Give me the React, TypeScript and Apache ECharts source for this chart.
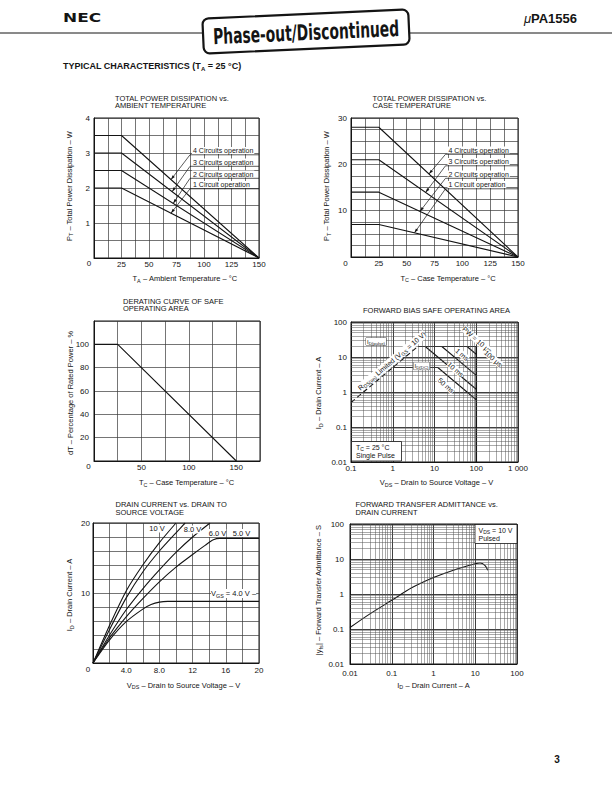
import React, { useEffect, useRef } from 'react';
import * as echarts from 'echarts';

// ---------- Chart 1: Total power dissipation vs ambient temperature ----------
const ambTemp = [0, 25, 150];
const pdAmb4 = [3.5, 3.5, 0];
const pdAmb3 = [3.0, 3.0, 0];
const pdAmb2 = [2.5, 2.5, 0];
const pdAmb1 = [2.0, 2.0, 0];

// ---------- Chart 2: Total power dissipation vs case temperature ----------
const caseTemp = [0, 25, 150];
const pdCase4 = [28, 28, 0];
const pdCase3 = [21, 21, 0];
const pdCase2 = [14, 14, 0];
const pdCase1 = [7, 7, 0];

// ---------- Chart 3: Derating curve ----------
const derateTemp = [0, 25, 150];
const deratePct = [100, 100, 0];

// ---------- Chart 4: Forward bias SOA ----------
const rdsV = [0.1, 4];
const rdsI = [0.5, 20];
const pw10usV = [4, 100];
const pw10usI = [20, 20];
const pw100usV = [60, 100];
const pw100usI = [20, 12];
const pw1msV = [15, 100];
const pw1msI = [20, 3];
const pw10msV = [6, 100];
const pw10msI = [20, 1.2];
const dcV = [1, 12, 100];
const dcI = [5, 5, 0.6];
const vdssV = [100, 100];
const vdssI = [20, 0.01];

// ---------- Chart 5: Drain current vs drain-source voltage ----------
const vds10 = [0, 2, 4, 6, 8, 10];
const id10 = [0, 5.4, 10.3, 14.0, 17.2, 20];
const vds8 = [0, 2, 4, 6, 8, 10, 11.1];
const id8 = [0, 4.8, 9.3, 13.0, 16.0, 18.6, 20];
const vds6 = [0, 2, 4, 6, 8, 10, 12, 14.1];
const id6 = [0, 4.0, 7.6, 10.6, 13.3, 15.8, 18.0, 20];
const vds5 = [0, 2, 4, 6, 8, 10, 12, 13.5, 14.5, 15.3, 20];
const id5 = [0, 3.6, 6.6, 9.2, 11.6, 13.7, 15.5, 16.8, 17.6, 17.8, 17.8];
const vds4 = [0, 2, 4, 6, 7, 8, 9, 20];
const id4 = [0, 3.3, 5.9, 7.7, 8.35, 8.7, 8.8, 8.8];

// ---------- Chart 6: Forward transfer admittance vs drain current ----------
const idFt = [0.01, 0.03, 0.1, 0.3, 1, 3, 10, 13, 17, 20];
const yfs = [0.11, 0.27, 0.66, 1.5, 2.96, 4.8, 7.3, 7.7, 6.6, 4.8];

// tick label sets
const c1XLabels = [25, 50, 75, 100, 125, 150];
const c1YLabels = [1, 2, 3, 4];
const c2YLabels = [10, 20, 30];
const c3XLabels = [50, 100, 150];
const c3YLabels = [20, 40, 60, 80, 100];
const c5XLabels = [4, 8, 12, 16, 20];
const c5YLabels = [10, 20];
const logMinorSteps = [2, 3, 4, 5, 6, 7, 8, 9];

const F = '"Liberation Sans", Arial, Helvetica, sans-serif';
const INK = '#141414';

const zip = (xs: number[], ys: number[]) => xs.map((x, i) => [x, ys[i]]);
const interp = (xs: number[], ys: number[], x: number) => {
  for (let i = 0; i < xs.length - 1; i++) {
    if (x >= xs[i] && x <= xs[i + 1]) {
      const t = (x - xs[i]) / (xs[i + 1] - xs[i]);
      return ys[i] + t * (ys[i + 1] - ys[i]);
    }
  }
  return ys[ys.length - 1];
};

function linAxis(gi: number, min: number, max: number, interval: number, labels: number[], margin: number, fmt?: (v: number) => string) {
  return {
    type: 'value', gridIndex: gi, min, max, interval,
    axisLine: { show: true, onZero: false, lineStyle: { color: INK, width: 1 } },
    axisTick: { show: false },
    splitLine: { show: true, lineStyle: { color: '#3a3a3a', width: 0.7 } },
    axisLabel: {
      fontSize: 8, color: INK, fontFamily: F, margin,
      formatter: (v: number) => (labels.some((l) => Math.abs(l - v) < 1e-6) ? (fmt ? fmt(v) : String(v)) : ''),
    },
  };
}
function logAxis(gi: number, min: number, max: number, margin: number) {
  return {
    type: 'log', logBase: 10, gridIndex: gi, min, max,
    axisLine: { show: true, onZero: false, lineStyle: { color: INK, width: 1 } },
    axisTick: { show: false },
    splitLine: { show: true, lineStyle: { color: '#2a2a2a', width: 0.9 } },
    axisLabel: {
      fontSize: 8, color: INK, fontFamily: F, margin,
      formatter: (v: number) => {
        const r = +Number(v).toPrecision(2);
        return r === 1000 ? '1 000' : String(r);
      },
    },
  };
}
function line(gi: number, data: number[][], extra: any = {}) {
  return {
    type: 'line', xAxisIndex: gi, yAxisIndex: gi, data, symbol: 'none', silent: true,
    lineStyle: { color: INK, width: 1.1 }, ...extra,
  };
}
function minorGrid(xDec: number[], yDec: number[]) {
  const xs: any[] = [];
  const ys: any[] = [];
  xDec.forEach((d) => logMinorSteps.forEach((m) => xs.push({ xAxis: +(d * m).toPrecision(3) })));
  yDec.forEach((d) => logMinorSteps.forEach((m) => ys.push({ yAxis: +(d * m).toPrecision(3) })));
  return {
    silent: true, symbol: ['none', 'none'], label: { show: false },
    lineStyle: { color: '#555', width: 0.5, type: 'solid' },
    emphasis: { disabled: true },
    data: [...xs, ...ys],
  };
}

const rich = (fs: number) => ({
  n: { fontSize: fs, fontFamily: F, fill: INK, lineHeight: fs * 1.2 },
  s: { fontSize: fs * 0.72, fontFamily: F, fill: INK, verticalAlign: 'bottom', lineHeight: fs * 0.95 },
});

function txt(x: number, y: number, text: string, o: any = {}) {
  const style: any = {
    text, fill: INK, fontSize: o.fs || 7.5, fontFamily: o.ff || F, fontWeight: o.fw || 'normal',
    align: o.align || 'left', verticalAlign: o.va || 'middle',
  };
  if (o.lh) style.lineHeight = o.lh;
  if (o.rich) style.rich = rich(o.fs || 7.5);
  if (o.bg) style.backgroundColor = o.bg;
  if (o.pad) style.padding = o.pad;
  if (o.bc) { style.borderColor = o.bc; style.borderWidth = o.bw || 0.8; }
  const el: any = { type: 'text', x, y, z: 20, style };
  if (o.rot) el.rotation = o.rot;
  if (o.scaleX) el.scaleX = o.scaleX;
  return el;
}
const hline = (x1: number, y1: number, x2: number, y2: number, w = 0.7) => ({
  type: 'line', z: 20, shape: { x1, y1, x2, y2 }, style: { stroke: INK, lineWidth: w },
});
function leader(s: number[], e: number[]) {
  const dx = e[0] - s[0];
  const dy = e[1] - s[1];
  const L = Math.hypot(dx, dy);
  const ux = dx / L;
  const uy = dy / L;
  const bx = e[0] - ux * 4.5;
  const by = e[1] - uy * 4.5;
  const px = -uy * 1.4;
  const py = ux * 1.4;
  return [
    hline(s[0], s[1], e[0], e[1], 0.7),
    { type: 'polygon', z: 20, shape: { points: [[e[0], e[1]], [bx + px, by + py], [bx - px, by - py]] }, style: { fill: INK } },
  ];
}

export default function App() {
  const ref = useRef<HTMLDivElement>(null);
  useEffect(() => {
    document.body.style.margin = '0';
    const chart = echarts.init(ref.current!, null, { renderer: 'svg', width: 612, height: 792 });
    const grids = [
      { left: 94, top: 118, width: 165, height: 140 },
      { left: 351, top: 118, width: 167, height: 139 },
      { left: 94, top: 321, width: 166, height: 140 },
      { left: 351, top: 322, width: 167, height: 140 },
      { left: 93, top: 523, width: 166, height: 140 },
      { left: 350, top: 524, width: 167, height: 140 },
    ].map((g) => ({ ...g, show: true, borderColor: INK, borderWidth: 1, backgroundColor: 'transparent' }));

    const xAxis = [
      linAxis(0, 0, 150, 12.5, c1XLabels, 2),
      linAxis(1, 0, 150, 12.5, c1XLabels, 2),
      linAxis(2, 0, 175, 25, c3XLabels, 2),
      logAxis(3, 0.1, 1000, 2),
      linAxis(4, 0, 20, 2, c5XLabels, 3, (v) => (v < 10 ? v.toFixed(1) : String(v))),
      logAxis(5, 0.01, 100, 5),
    ];
    const yAxis = [
      linAxis(0, 0, 4, 0.5, c1YLabels, 4),
      linAxis(1, 0, 30, 2.5, c2YLabels, 4),
      linAxis(2, 0, 120, 20, c3YLabels, 5),
      logAxis(3, 0.01, 100, 4),
      linAxis(4, 0, 20, 2, c5YLabels, 3),
      logAxis(5, 0.01, 100, 6),
    ];

    const sm = { smooth: 0.25 };
    const series: any[] = [
      line(0, zip(ambTemp, pdAmb4)),
      line(0, zip(ambTemp, pdAmb3)),
      line(0, zip(ambTemp, pdAmb2)),
      line(0, zip(ambTemp, pdAmb1)),
      line(1, zip(caseTemp, pdCase4)),
      line(1, zip(caseTemp, pdCase3)),
      line(1, zip(caseTemp, pdCase2)),
      line(1, zip(caseTemp, pdCase1)),
      line(2, zip(derateTemp, deratePct)),
      line(3, zip(rdsV, rdsI), { lineStyle: { color: INK, width: 1.1, type: [5, 3] } }),
      line(3, zip(pw10usV, pw10usI)),
      line(3, zip(pw100usV, pw100usI)),
      line(3, zip(pw1msV, pw1msI)),
      line(3, zip(pw10msV, pw10msI)),
      line(3, zip(dcV, dcI)),
      line(3, zip(vdssV, vdssI), { lineStyle: { color: INK, width: 1.6 }, markLine: minorGrid([0.1, 1, 10, 100], [0.01, 0.1, 1, 10]) }),
      line(4, zip(vds10, id10), sm),
      line(4, zip(vds8, id8), sm),
      line(4, zip(vds6, id6), sm),
      line(4, zip(vds5, id5), sm),
      line(4, zip(vds4, id4), sm),
      line(5, zip(idFt, yfs), { smooth: 0.3, markLine: minorGrid([0.01, 0.1, 1, 10], [0.01, 0.1, 1, 10]) }),
    ];

    chart.setOption({ animation: false, backgroundColor: '#fff', grid: grids, xAxis, yAxis, series });

    const p = (gi: number, x: number, y: number) => chart.convertToPixel({ gridIndex: gi } as any, [x, y]) as number[];

    const g: any[] = [];
    // header
    g.push(hline(0, 33, 612, 33, 1));
    g.push(txt(63, 18, 'NEC', { fs: 13, fw: 900, ff: '"DejaVu Sans", sans-serif', scaleX: 1.3 }));
    g.push({
      type: 'text', x: 577, y: 18, z: 20,
      style: {
        text: '{m|μ}{b|PA1556}', align: 'right', verticalAlign: 'middle',
        rich: {
          m: { fontSize: 13, fontFamily: F, fontStyle: 'italic', fill: INK },
          b: { fontSize: 13, fontFamily: F, fontWeight: 'bold', fill: INK },
        },
      },
    });
    g.push({
      type: 'group', x: 306, y: 31, rotation: 0.045, z: 30,
      children: [
        { type: 'rect', z: 30, shape: { x: -103, y: -17, width: 206, height: 35, r: 6 }, style: { fill: '#fff', stroke: INK, lineWidth: 2.2 } },
        { type: 'text', z: 31, x: 0, y: 1, scaleX: 0.7, style: { text: 'Phase-out/Discontinued', fontSize: 22, fontWeight: 900, fontFamily: '"DejaVu Sans Condensed", "DejaVu Sans", sans-serif', fill: INK, align: 'center', verticalAlign: 'middle' } },
      ],
    });
    g.push(txt(63, 66, '{b|TYPICAL CHARACTERISTICS (T}{bs|A}{b| = 25 °C)}', {}));
    g[g.length - 1].style.rich = {
      b: { fontSize: 9, fontWeight: 'bold', fontFamily: F, fill: INK, lineHeight: 11 },
      bs: { fontSize: 6, fontWeight: 'bold', fontFamily: F, fill: INK, verticalAlign: 'bottom', lineHeight: 9 },
    };
    g.push(txt(557, 759, '3', { fs: 10, fw: 'bold', align: 'center' }));

    // titles
    const titleOpts = { fs: 7.5, lh: 7.6, va: 'top' };
    g.push(txt(115, 94.5, 'TOTAL POWER DISSIPATION vs.\nAMBIENT TEMPERATURE', titleOpts));
    g.push(txt(372.5, 94.5, 'TOTAL POWER DISSIPATION vs.\nCASE TEMPERATURE', titleOpts));
    g.push(txt(123, 297.5, 'DERATING CURVE OF SAFE\nOPERATING AREA', titleOpts));
    g.push(txt(436.5, 310.5, 'FORWARD BIAS SAFE OPERATING AREA', { fs: 7.5, align: 'center' }));
    g.push(txt(115.5, 501, 'DRAIN CURRENT vs. DRAIN TO\nSOURCE VOLTAGE', titleOpts));
    g.push(txt(355.5, 501, 'FORWARD TRANSFER ADMITTANCE vs.\nDRAIN CURRENT', titleOpts));

    // axis names
    const nm = (x: number, y: number, s: string, rot = 0) => txt(x, y, s, { fs: 7.5, align: 'center', rich: true, rot });
    const R = Math.PI / 2;
    g.push(nm(69, 186, '{n|P}{s|T}{n| – Total Power Dissipation – W}', R));
    g.push(nm(185, 278.5, '{n|T}{s|A}{n| – Ambient Temperature – °C}'));
    g.push(nm(326.5, 186, '{n|P}{s|T}{n| – Total Power Dissipation – W}', R));
    g.push(nm(448, 278, '{n|T}{s|C}{n| – Case Temperature – °C}'));
    g.push(nm(70, 393, '{n|dT – Percentage of Rated Power – %}', R));
    g.push(nm(186.5, 482.5, '{n|T}{s|C}{n| – Case Temperature – °C}'));
    g.push(nm(318.5, 393, '{n|I}{s|D}{n| – Drain Current – A}', R));
    g.push(nm(436.5, 482.5, '{n|V}{s|DS}{n| – Drain to Source Voltage – V}'));
    g.push(nm(69.5, 595, '{n|I}{s|D}{n| – Drain Current – A}', R));
    g.push(nm(183.5, 685, '{n|V}{s|DS}{n| – Drain to Source Voltage – V}'));
    g.push(nm(318.5, 590, '{n||y}{s|fs}{n|| – Forward Transfer Admittance – S}', R));
    g.push(nm(433.5, 685, '{n|I}{s|D}{n| – Drain Current – A}'));

    // shared origin zeros
    g.push(txt(89, 263.5, '0', { fs: 8, align: 'center' }));
    g.push(txt(345.5, 263.5, '0', { fs: 8, align: 'center' }));
    g.push(txt(88.5, 466.5, '0', { fs: 8, align: 'center' }));
    g.push(txt(88, 669.5, '0', { fs: 8, align: 'center' }));

    // chart 1 labels and leaders
    const c1Lab = [
      { t: '4 Circuits operation', y: 150.5, xs: ambTemp, ys: pdAmb4, at: 70 },
      { t: '3 Circuits operation', y: 162, xs: ambTemp, ys: pdAmb3, at: 71 },
      { t: '2 Circuits operation', y: 174, xs: ambTemp, ys: pdAmb2, at: 72 },
      { t: '1 Circuit operation', y: 184.5, xs: ambTemp, ys: pdAmb1, at: 70 },
    ];
    c1Lab.forEach((l) => {
      g.push(txt(192, l.y, l.t, { fs: 7, bg: '#fff', pad: [0, 1, 0, 1] }));
      g.push(hline(190, l.y + 4.3, 259, l.y + 4.3, 0.7));
      g.push(...leader([190, l.y + 4.3], p(0, l.at, interp(l.xs, l.ys, l.at))));
    });
    const c2Lab = [
      { t: '4 Circuits operation', y: 150, xs: caseTemp, ys: pdCase4, at: 70 },
      { t: '3 Circuits operation', y: 161.5, xs: caseTemp, ys: pdCase3, at: 67 },
      { t: '2 Circuits operation', y: 174, xs: caseTemp, ys: pdCase2, at: 62 },
      { t: '1 Circuit operation', y: 184.5, xs: caseTemp, ys: pdCase1, at: 57 },
    ];
    c2Lab.forEach((l) => {
      g.push(txt(447.5, l.y, l.t, { fs: 7, bg: '#fff', pad: [0, 1, 0, 1] }));
      g.push(hline(445.5, l.y + 4.3, 518, l.y + 4.3, 0.7));
      g.push(...leader([445.5, l.y + 4.3], p(1, l.at, interp(l.xs, l.ys, l.at))));
    });

    // chart 4 annotations
    const rot45 = -0.72;
    g.push(txt(477, 340, 'PW = 10 μs', { fs: 7, align: 'center', rot: rot45, bg: '#fff' }));
    g.push(txt(493, 358.5, '100 μs', { fs: 7, align: 'center', rot: rot45, bg: '#fff' }));
    g.push(txt(462, 354.5, '1 ms', { fs: 7, align: 'center', rot: rot45, bg: '#fff' }));
    g.push(txt(455.5, 369.5, '10 ms', { fs: 7, align: 'center', rot: rot45, bg: '#fff' }));
    g.push(txt(446, 385.5, '50 ms', { fs: 7, align: 'center', rot: rot45, bg: '#fff' }));
    g.push(txt(392, 361, '{n|R}{s|DS(on)}{n| Limited (V}{s|GS}{n| = 10 V)}', { fs: 7, align: 'center', rich: true, rot: 0.7, bg: '#fff' }));
    g.push(txt(376, 341.5, '{n|I}{s|D(pulse)}', { fs: 6, align: 'center', rich: true, bg: '#fff', bc: '#555', bw: 0.5, pad: [0, 1, 0, 1] }));
    g.push(txt(421.5, 366, '{n|I}{s|D(DC)}', { fs: 6, align: 'center', rich: true, bg: '#fff', bc: '#555', bw: 0.5, pad: [0, 1, 0, 1] }));
    g.push({ type: 'rect', z: 19, shape: { x: 351.5, y: 441.5, width: 50, height: 19.5 }, style: { fill: '#fff', stroke: INK, lineWidth: 0.8 } });
    g.push(txt(356, 447, '{n|T}{s|C}{n| = 25 °C}', { fs: 7, rich: true }));
    g.push(txt(356, 455.5, 'Single Pulse', { fs: 7 }));

    // chart 5 labels
    g.push(txt(157, 528.5, '10 V', { fs: 7.5, align: 'center', bg: '#fff' }));
    g.push(txt(192.5, 529.5, '8.0 V', { fs: 7.5, align: 'center', bg: '#fff' }));
    g.push(txt(217.5, 533, '6.0 V', { fs: 7.5, align: 'center', bg: '#fff' }));
    g.push(txt(241.5, 533, '5.0 V', { fs: 7.5, align: 'center', bg: '#fff' }));
    g.push(txt(211, 593.5, '{n|V}{s|GS}{n| = 4.0 V –}', { fs: 7.5, rich: true, bg: '#fff' }));

    // chart 6 box
    g.push({ type: 'rect', z: 19, shape: { x: 475, y: 524.5, width: 42, height: 19 }, style: { fill: '#fff', stroke: INK, lineWidth: 0.8 } });
    g.push(txt(478.5, 530, '{n|V}{s|DS}{n| = 10 V}', { fs: 7, rich: true }));
    g.push(txt(478.5, 538.5, 'Pulsed', { fs: 7 }));

    chart.setOption({ graphic: { elements: g } });
    return () => chart.dispose();
  }, []);
  return <div ref={ref} style={{ position: 'absolute', left: 0, top: 0, width: 612, height: 792, background: '#fff' }} />;
}
